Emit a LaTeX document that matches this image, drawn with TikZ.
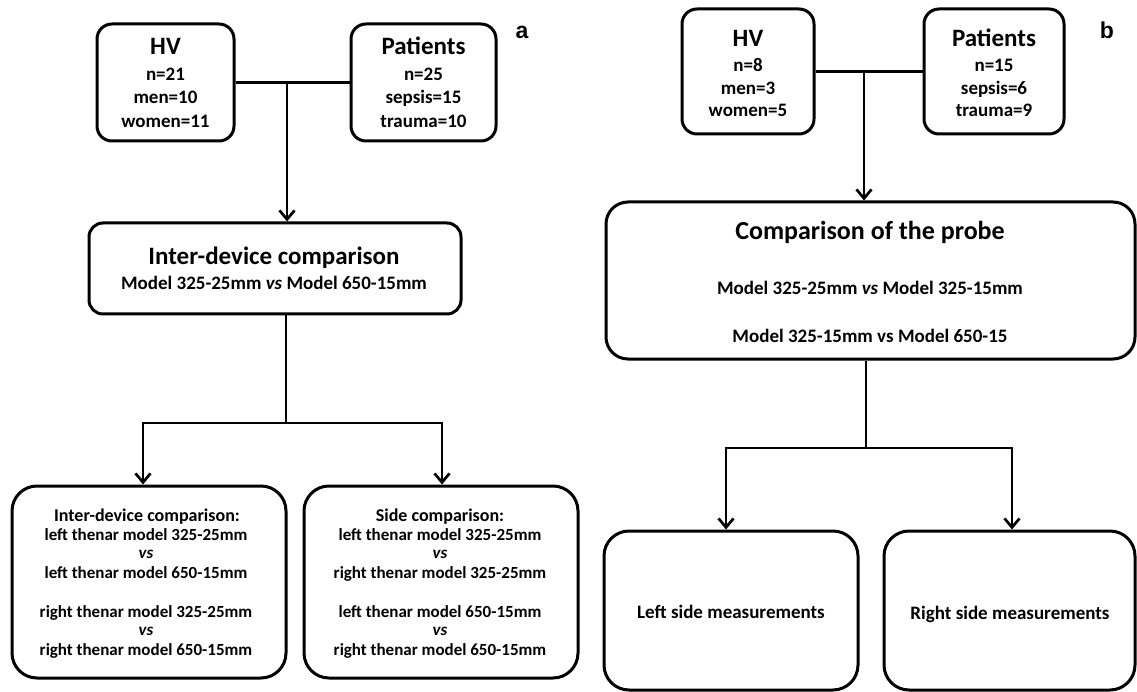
\documentclass[tikz,border=0pt]{standalone}
\usepackage{fontspec}
\setmainfont{Carlito}
\newfontfamily\lblfont{Liberation Sans}
\usetikzlibrary{arrows.meta}
\tikzset{
  box/.style={draw, line width=3pt, inner sep=0pt},
  conn/.style={line width=2.7pt},
  arr/.style={conn, -{Straight Barb[length=9pt, width=15pt]}},
  txt/.style={anchor=base, inner sep=0pt, font=\bfseries\fontsize{19}{19}\selectfont},
  ttl/.style={txt, font=\bfseries\fontsize{25}{25}\selectfont},
  bigttl/.style={txt, font=\bfseries\fontsize{26}{26}\selectfont},
  subttl/.style={txt, font=\bfseries\fontsize{18}{18}\selectfont},
  body/.style={txt, font=\bfseries\fontsize{17}{17}\selectfont},
  panel/.style={font=\lblfont\bfseries\fontsize{23}{23}\selectfont, anchor=base, inner sep=0pt}
}
\begin{document}
\begin{tikzpicture}[x=1pt,y=-1pt]
\useasboundingbox (0,0) rectangle (1137,692);
% ---------- panel a ----------
\node[box, rounded corners=15pt, minimum width=137pt, minimum height=117pt] (hva) at (165.5,82.5) {};
\node[ttl] (hva1) at (165.5,55) {HV};
\node[txt] (hva2) at (165.5,81) {n=21};
\node[txt] (hva3) at (165.5,104) {men=10};
\node[txt] (hva4) at (165.5,128) {women=11};
\node[box, rounded corners=15pt, minimum width=145pt, minimum height=117pt] (pata) at (423.5,82.5) {};
\node[ttl] (pata1) at (423.5,55) {Patients};
\node[txt] (pata2) at (423.5,81) {n=25};
\node[txt] (pata3) at (423.5,104) {sepsis=15};
\node[txt] (pata4) at (423.5,128) {trauma=10};
\node[panel] (la) at (522,39) {a};
\node[box, rounded corners=14pt, minimum width=372pt, minimum height=91pt] (ida) at (275,268.5) {};
\node[ttl] (ida1) at (274,265) {Inter-device comparison};
\node[txt] (ida2) at (274,290) {Model 325-25mm \textit{vs} Model 650-15mm};
\node[box, rounded corners=25pt, minimum width=274pt, minimum height=192pt] (lla) at (149,582) {};
\node[subttl] (lla1) at (147,521) {Inter-device comparison:};
\node[body] (lla2) at (146,540) {left thenar model 325-25mm};
\node[body] (lla3) at (146,558) {\textit{vs}};
\node[body] (lla4) at (146,578) {left thenar model 650-15mm};
\node[body] (lla5) at (146,617) {right thenar model 325-25mm};
\node[body] (lla6) at (146,635) {\textit{vs}};
\node[body] (lla7) at (146,655) {right thenar model 650-15mm};
\node[box, rounded corners=25pt, minimum width=274pt, minimum height=192pt] (lra) at (441,582) {};
\node[subttl] (lra1) at (440,521) {Side comparison:};
\node[body] (lra2) at (440,540) {left thenar model 325-25mm};
\node[body] (lra3) at (440,558) {\textit{vs}};
\node[body] (lra4) at (440,578) {right thenar model 325-25mm};
\node[body] (lra5) at (440,617) {left thenar model 650-15mm};
\node[body] (lra6) at (440,635) {\textit{vs}};
\node[body] (lra7) at (440,655) {right thenar model 650-15mm};
\draw[conn] (hva) -- (pata);
\coordinate (ja) at (287,82.5);
\draw[arr] (ja) -- (ja |- ida.north);
\coordinate (ka) at (286,423);
\draw[conn] (ka |- ida.south) -- (ka);
\coordinate (kal) at (143,423);
\coordinate (kar) at (442,423);
\draw[arr] (ka) -- (kal) -- (kal |- lla.north);
\draw[arr] (ka) -- (kar) -- (kar |- lra.north);
% ---------- panel b ----------
\node[box, rounded corners=15pt, minimum width=132pt, minimum height=125pt] (hvb) at (748,71.5) {};
\node[ttl] (hvb1) at (748,47) {HV};
\node[txt] (hvb2) at (748,72) {n=8};
\node[txt] (hvb3) at (748,94.5) {men=3};
\node[txt] (hvb4) at (748,117) {women=5};
\node[box, rounded corners=15pt, minimum width=140pt, minimum height=125pt] (patb) at (994,71.5) {};
\node[ttl] (patb1) at (994,47) {Patients};
\node[txt] (patb2) at (994,72) {n=15};
\node[txt] (patb3) at (994,94.5) {sepsis=6};
\node[txt] (patb4) at (994,117) {trauma=9};
\node[panel] (lb) at (1107,39) {b};
\node[box, rounded corners=22pt, minimum width=529pt, minimum height=157pt] (cpb) at (870.5,280.5) {};
\node[bigttl] (cpb1) at (870,240) {Comparison of the probe};
\node[txt] (cpb2) at (870,295) {Model 325-25mm \textit{vs} Model 325-15mm};
\node[txt] (cpb3) at (870,342) {Model 325-15mm vs Model 650-15};
\node[box, rounded corners=25pt, minimum width=254pt, minimum height=159pt] (lsb) at (731,610.5) {};
\node[txt] (lsb1) at (731,618) {Left side measurements};
\node[box, rounded corners=25pt, minimum width=251pt, minimum height=159pt] (rsb) at (1009.5,610.5) {};
\node[txt] (rsb1) at (1010,619) {Right side measurements};
\draw[conn] (hvb) -- (patb);
\coordinate (jb) at (864,71.5);
\draw[arr] (jb) -- (jb |- cpb.north);
\coordinate (kb) at (866,448);
\draw[conn] (kb |- cpb.south) -- (kb);
\coordinate (kbl) at (726,448);
\coordinate (kbr) at (1012,448);
\draw[arr] (kb) -- (kbl) -- (kbl |- lsb.north);
\draw[arr] (kb) -- (kbr) -- (kbr |- rsb.north);
\end{tikzpicture}
\end{document}
